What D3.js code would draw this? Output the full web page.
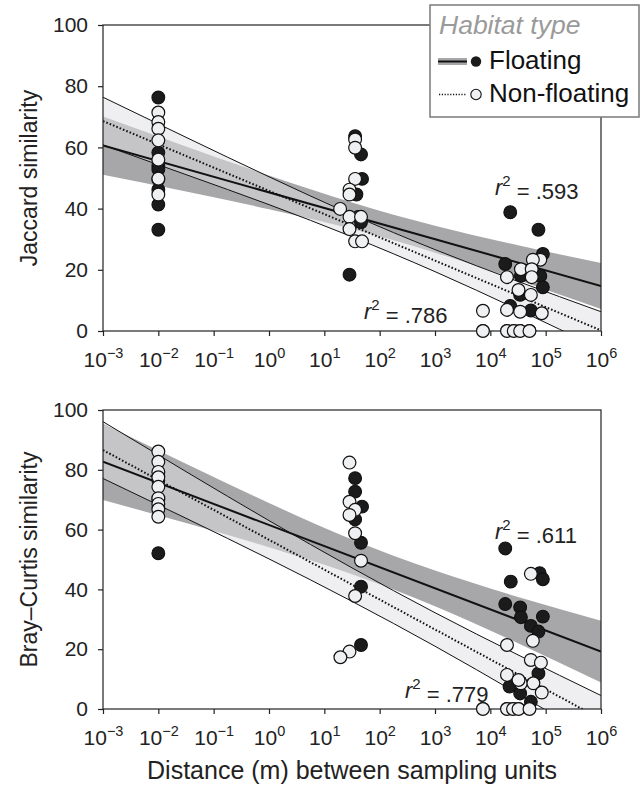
<!DOCTYPE html>
<html>
<head>
<meta charset="utf-8">
<script src="https://cdn.jsdelivr.net/npm/d3@7"></script>
<style>
  html, body { margin: 0; padding: 0; background: #fff; }
  svg { display: block; font-family: "Liberation Sans", Arial, sans-serif; }
</style>
</head>
<body>
<svg id="chart" width="641" height="798"></svg>
<script>
// ---------------- DATA ----------------
const xTickExponents = [-3, -2, -1, 0, 1, 2, 3, 4, 5, 6];
const yTicks = [0, 20, 40, 60, 80, 100];
const habitatTypes = ["Floating", "Non-floating"];

// [distance (m), similarity]
const jaccardFloating = [
  [0.01, 76.3], [0.01, 58.3], [0.01, 54], [0.01, 52.8], [0.01, 49.5], [0.01, 46.2], [0.01, 41.3], [0.01, 33.1],
  [36, 63.7], [46, 57.7], [48, 49.7], [38, 44.6], [41, 37.3], [46, 35.5], [28.5, 18.4],
  [22900, 38.8], [74000, 33.1], [89000, 25.2], [18600, 21.9], [35700, 18], [80000, 18],
  [89000, 14.3], [34600, 11.8], [22900, 8.2], [54000, 6.7]
];
const jaccardNonFloating = [
  [0.01, 71.4], [0.01, 68.3], [0.01, 66.1], [0.01, 62.3], [0.01, 56], [0.01, 49.8], [0.01, 44.6],
  [36, 62.6], [36, 59.9], [36, 49.7], [28.5, 46.2], [28.5, 44.6], [19.3, 39.9], [28.5, 37.3], [46, 37.3],
  [28.5, 33.3], [36, 29.3], [48, 29.3],
  [80000, 23.3], [58700, 23.3], [35700, 20.2], [56000, 20.2], [20000, 17.6], [56000, 17.6],
  [32300, 13.4], [54000, 11.8], [7350, 6.6], [20000, 6.9], [34600, 6.3], [85000, 5.8],
  [7350, 0], [20000, 0], [26500, 0], [34600, 0], [51000, 0]
];
const brayFloating = [
  [0.01, 76.5], [0.01, 70], [0.01, 52.1],
  [36, 77.2], [36, 72.7], [48, 67.7], [36, 63.4], [46, 55.6], [46, 40.9], [46, 21.4],
  [18600, 53.7], [78000, 45.4], [89000, 43.4], [23400, 42.6], [18600, 35.1], [34600, 34.0],
  [35700, 30.7], [89000, 30.9], [54000, 27.8], [74000, 25.9], [74000, 11.9], [22200, 7.5],
  [34600, 5.2], [54000, 2.4]
];
const brayNonFloating = [
  [0.01, 86.1], [0.01, 82.7], [0.01, 79.3], [0.01, 77.5], [0.01, 74.3], [0.01, 70.5], [0.01, 68.6],
  [0.01, 66.8], [0.01, 64.3],
  [28.5, 82.4], [28.5, 69.3], [36, 66.6], [28.5, 64.9], [36, 58.8], [46, 49.6], [36, 37.8],
  [28.5, 19.2], [19.5, 17.3],
  [54000, 45.2], [58700, 22.8], [20000, 21.4], [54000, 16.4], [82000, 15.5], [20000, 11.4],
  [35700, 8.6], [32300, 9.7], [60000, 8.6], [85000, 5.5],
  [7350, 0], [20000, 0], [25700, 0], [32300, 0], [51000, 0]
];

// regression fits (value at 10^-3 m and at 10^6 m) and confidence band edges
const fitEnds = [1e-3, 1e6];
const bandLogX = [-3, -1.5, 0, 1.5, 3, 4.5, 6];

const jaccardFloatingFit = [60.6, 14.7];
const jaccardFloatingUpper = [70.1, 60.3, 50.8, 42.0, 34.4, 28.0, 22.2];
const jaccardFloatingLower = [51.1, 45.6, 39.8, 33.3, 25.6, 16.7, 7.2];
const jaccardNonFit = [68.6, 0.2];
const jaccardNonUpper = [76.4, 63.3, 50.4, 38.0, 26.6, 16.2, 6.3];
const jaccardNonLower = [60.8, 51.1, 41.3, 30.8, 19.4, 7.0, -5.9];

const brayFloatingFit = [82.7, 19.2];
const brayFloatingUpper = [95.5, 82.0, 68.9, 56.7, 46.3, 37.5, 29.5];
const brayFloatingLower = [69.9, 62.2, 54.1, 45.1, 34.4, 22.0, 8.9];
const brayNonFit = [86.6, -3.4];
const brayNonUpper = [96.1, 79.4, 63.0, 47.2, 32.2, 18.1, 4.5];
const brayNonLower = [77.1, 63.8, 50.2, 36.0, 21.0, 5.1, -11.3];

const rSquared = { jaccardFloating: ".593", jaccardNon: ".786", brayFloating: ".611", brayNon: ".779" };

// ---------------- DRAWING ----------------
const svg = d3.select("#chart");
const FONT = "Liberation Sans, Arial, sans-serif";
const COL_DARK = "#a7a7a9", COL_LIGHT = "#efeff1", COL_OVER = "#c5c5c7";
const COL_WHITE_PT = "#eef0f2", COL_BLACK_PT = "#1b1b1b";
const left = 103, right = 601;
const PT_R = 6.4;

const x = d3.scaleLog().domain([1e-3, 1e6]).range([left, right]);

function panel(id, top, bottom, cfg) {
  const y = d3.scaleLinear().domain([0, 100]).range([bottom, top]);
  const g = svg.append("g");

  const clipId = "clip-" + id;
  svg.append("clipPath").attr("id", clipId)
    .append("rect").attr("x", left).attr("y", top).attr("width", right - left).attr("height", bottom - top);

  const plot = g.append("g").attr("clip-path", `url(#${clipId})`);

  const bandPts = (up, lo) => bandLogX.map((lx, i) => ({ d: Math.pow(10, lx), hi: up[i], lo: lo[i] }));
  const area = d3.area().curve(d3.curveNatural)
    .x(p => x(p.d)).y0(p => y(p.lo)).y1(p => y(p.hi));
  const edge = key => d3.line().curve(d3.curveNatural).x(p => x(p.d)).y(p => y(p[key]));

  const fBand = bandPts(cfg.fUp, cfg.fLo);
  const nBand = bandPts(cfg.nUp, cfg.nLo);

  plot.append("path").attr("d", area(fBand)).attr("fill", COL_DARK);
  plot.append("path").attr("d", area(nBand)).attr("fill", COL_LIGHT);

  const ovId = "ov-" + id;
  svg.append("clipPath").attr("id", ovId).append("path").attr("d", area(nBand));
  plot.append("g").attr("clip-path", `url(#${ovId})`)
    .append("path").attr("d", area(fBand)).attr("fill", COL_OVER);

  // non-floating CI edge lines
  plot.append("path").attr("d", edge("hi")(nBand)).attr("fill", "none").attr("stroke", "#111").attr("stroke-width", 1);
  plot.append("path").attr("d", edge("lo")(nBand)).attr("fill", "none").attr("stroke", "#111").attr("stroke-width", 1);

  const fitLine = d3.line().x(p => x(p[0])).y(p => y(p[1]));
  plot.append("path").attr("d", fitLine(fitEnds.map((d, i) => [d, cfg.fFit[i]])))
    .attr("fill", "none").attr("stroke", "#111").attr("stroke-width", 2);
  plot.append("path").attr("d", fitLine(fitEnds.map((d, i) => [d, cfg.nFit[i]])))
    .attr("fill", "none").attr("stroke", "#111").attr("stroke-width", 2).attr("stroke-dasharray", "1.6,2");

  // frame
  g.append("rect").attr("x", left).attr("y", top).attr("width", right - left).attr("height", bottom - top)
    .attr("fill", "none").attr("stroke", "#222").attr("stroke-width", 1.2);

  // axes
  const ya = g.append("g").attr("transform", `translate(${left},0)`)
    .call(d3.axisLeft(y).tickValues(yTicks).tickSize(5).tickSizeOuter(0).tickPadding(10));
  ya.select(".domain").remove();
  ya.selectAll("line").attr("stroke", "#222").attr("stroke-width", 1.2);
  ya.selectAll("text").attr("font-size", 21).attr("fill", "#222").style("font-family", FONT);

  const xa = g.append("g").attr("transform", `translate(0,${bottom})`)
    .call(d3.axisBottom(x).tickValues(xTickExponents.map(e => Math.pow(10, e))).tickSize(5).tickSizeOuter(0).tickPadding(13).tickFormat(""));
  xa.select(".domain").remove();
  xa.selectAll("line").attr("stroke", "#222").attr("stroke-width", 1.2);
  xa.selectAll(".tick").each(function (d, i) {
    const t = d3.select(this).select("text")
      .attr("font-size", 21).attr("fill", "#222").attr("dy", "0.85em")
      .style("font-family", FONT).text(null);
    t.append("tspan").text("10");
    const e = xTickExponents[i];
    t.append("tspan").attr("font-size", 14.5).attr("dy", "-0.6em")
      .text(e < 0 ? "\u2212" + Math.abs(e) : String(e));
  });

  // points
  plot.append("g").selectAll("circle").data(cfg.fPts).join("circle")
    .attr("cx", d => x(d[0])).attr("cy", d => y(d[1])).attr("r", PT_R)
    .attr("fill", COL_BLACK_PT).attr("stroke", "#111").attr("stroke-width", 1.1);
  plot.append("g").selectAll("circle").data(cfg.nPts).join("circle")
    .attr("cx", d => x(d[0])).attr("cy", d => y(d[1])).attr("r", PT_R)
    .attr("fill", COL_WHITE_PT).attr("stroke", "#111").attr("stroke-width", 1.2);
  g.append("g").selectAll("circle").data(cfg.nPts.filter(d => d[1] === 0)).join("circle")
    .attr("cx", d => x(d[0])).attr("cy", d => y(d[1])).attr("r", PT_R)
    .attr("fill", COL_WHITE_PT).attr("stroke", "#111").attr("stroke-width", 1.2);

  // axis title
  g.append("text").attr("transform", `translate(37,${(top + bottom) / 2}) rotate(-90)`)
    .attr("text-anchor", "middle").attr("font-size", 23).attr("fill", "#222").text(cfg.title);

  // r^2 labels
  const r2 = (px, py, val) => {
    const t = g.append("text").attr("x", px).attr("y", py).attr("font-size", 22).attr("fill", "#222");
    t.append("tspan").attr("font-style", "italic").text("r");
    t.append("tspan").attr("font-size", 15).attr("dy", "-0.6em").text("2");
    t.append("tspan").attr("dy", "0.6em").text(" = " + val);
  };
  r2(cfg.r2f[0], cfg.r2f[1], cfg.r2fVal);
  r2(cfg.r2n[0], cfg.r2n[1], cfg.r2nVal);
}

panel("top", 25, 331, {
  title: "Jaccard similarity",
  fFit: jaccardFloatingFit, fUp: jaccardFloatingUpper, fLo: jaccardFloatingLower,
  nFit: jaccardNonFit, nUp: jaccardNonUpper, nLo: jaccardNonLower,
  fPts: jaccardFloating, nPts: jaccardNonFloating,
  r2f: [495, 195], r2fVal: rSquared.jaccardFloating,
  r2n: [364, 319], r2nVal: rSquared.jaccardNon
});

panel("bottom", 410, 709, {
  title: "Bray\u2013Curtis similarity",
  fFit: brayFloatingFit, fUp: brayFloatingUpper, fLo: brayFloatingLower,
  nFit: brayNonFit, nUp: brayNonUpper, nLo: brayNonLower,
  fPts: brayFloating, nPts: brayNonFloating,
  r2f: [495, 539], r2fVal: rSquared.brayFloating,
  r2n: [405, 698], r2nVal: rSquared.brayNon
});

// x-axis title
svg.append("text").attr("x", 352).attr("y", 779).attr("text-anchor", "middle")
  .attr("font-size", 25).attr("fill", "#222").text("Distance (m) between sampling units");

// legend
const lg = svg.append("g");
lg.append("rect").attr("x", 430).attr("y", 5).attr("width", 209).attr("height", 112)
  .attr("fill", "#fff").attr("stroke", "#7a7a7a").attr("stroke-width", 1.5);
lg.append("text").attr("x", 439).attr("y", 34).attr("font-size", 26.5).attr("font-style", "italic")
  .attr("fill", "#9a9a9a").text("Habitat type");
lg.append("line").attr("x1", 438).attr("x2", 467).attr("y1", 61.5).attr("y2", 61.5)
  .attr("stroke", COL_DARK).attr("stroke-width", 7);
lg.append("line").attr("x1", 438).attr("x2", 467).attr("y1", 61.5).attr("y2", 61.5)
  .attr("stroke", "#111").attr("stroke-width", 2);
lg.append("circle").attr("cx", 476).attr("cy", 61.5).attr("r", 5.2).attr("fill", COL_BLACK_PT);
lg.append("text").attr("x", 489).attr("y", 69).attr("font-size", 26).attr("fill", "#111").text(habitatTypes[0]);
lg.append("line").attr("x1", 439).attr("x2", 467).attr("y1", 94.5).attr("y2", 94.5)
  .attr("stroke", "#111").attr("stroke-width", 1.5).attr("stroke-dasharray", "1.2,1.6");
lg.append("circle").attr("cx", 476).attr("cy", 94.5).attr("r", 5.2).attr("fill", COL_WHITE_PT)
  .attr("stroke", "#111").attr("stroke-width", 1.1);
lg.append("text").attr("x", 489).attr("y", 102).attr("font-size", 26).attr("fill", "#111").text(habitatTypes[1]);
</script>
</body>
</html>
